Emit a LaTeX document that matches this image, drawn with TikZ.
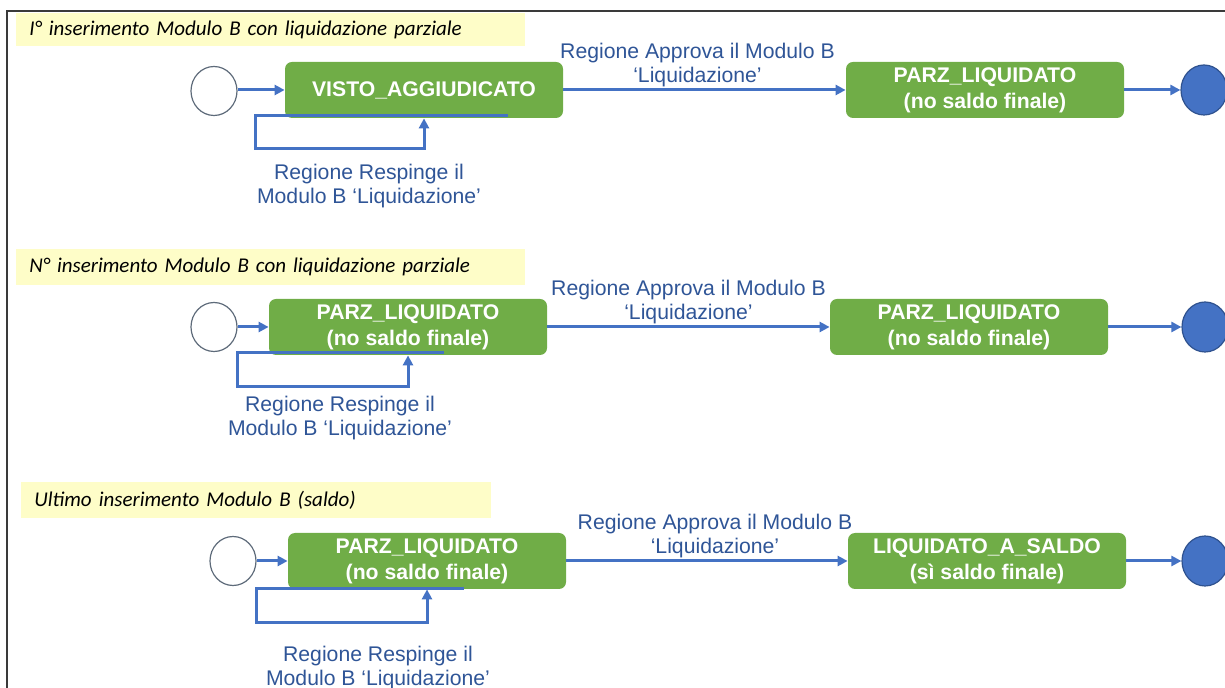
\documentclass[tikz,border=0pt]{standalone}
\usepackage{fontspec}
\setmainfont{Liberation Sans}
\newfontfamily\notefont{Carlito}
\usetikzlibrary{calc, shapes.geometric, arrows.meta}

\definecolor{phasegreen}{HTML}{70AD47}
\definecolor{flowblue}{HTML}{4472C4}
\definecolor{remarkblue}{HTML}{2F5597}
\definecolor{finishedge}{HTML}{2F528F}
\definecolor{pseudoedge}{HTML}{5E6B7A}
\definecolor{notegold}{HTML}{FEFDC8}
\definecolor{frameline}{HTML}{3A3A3A}

\begin{document}
\begin{tikzpicture}[x=0.5pt, y=-0.5pt,
        phase/.style={rectangle, rounded corners=3.5pt, fill=phasegreen, text=white, inner sep=0pt,
            minimum width=139pt, minimum height=28pt, align=center,
            font=\fontsize{10.6}{13}\selectfont\bfseries},
        pseudo/.style={ellipse, draw=pseudoedge, fill=white, line width=0.6pt, minimum width=23pt, minimum height=24.5pt},
        finish/.style={ellipse, draw=finishedge, fill=flowblue, line width=0.6pt, minimum width=23pt, minimum height=25pt},
        note/.style={fill=notegold, anchor=north west, inner xsep=6.5pt, inner ysep=0pt, minimum height=16.5pt,
            align=left, font=\notefont\itshape\fontsize{10.5}{12}\selectfont},
        remark/.style={text=remarkblue, align=center, inner sep=1pt, font=\fontsize{10.6}{12}\selectfont},
        flow/.style={draw=flowblue, line width=1.5pt, -{Triangle[length=5pt, width=5pt]}},
        ]

    \useasboundingbox (0, 0) rectangle (1225, 688);
    \clip (0, 0) rectangle (1225, 688);

    \draw [frameline, line width=1pt] (7, 700) -- (7, 11) -- (1230, 11);

    \node (T1) at (16, 13) [note, text width=241.5pt] {I° inserimento Modulo B con liquidazione parziale};
    \node (S1) at (214, 91) [pseudo] {};
    \node (A1) at (424, 90) [phase] {VISTO\_AGGIUDICATO};
    \node (B1) at (985, 90) [phase] {PARZ\_LIQUIDATO\\(no saldo finale)};
    \node (E1) at (1204, 90) [finish] {};

    \draw [flow] (S1.east |- A1) -- (A1);
    \draw [flow] (A1) -- node [remark, above, xshift=-3.5pt] {Regione Approva il Modulo B\\‘Liquidazione’} (B1);
    \draw [flow] (B1) -- (E1);
    \draw [flow] ($(A1.south) + (84, -3)$) -| ($(A1.south west) + (-29, 30)$) -| (A1.south);
    \node (R1) at (369, 186) [remark] {Regione Respinge il\\Modulo B ‘Liquidazione’};

    \node (T2) at (16, 249) [note, text width=241.5pt, minimum height=18pt] {N° inserimento Modulo B con liquidazione parziale};
    \node (S2) at (214, 327) [pseudo] {};
    \node (A2) at (408, 327) [phase] {PARZ\_LIQUIDATO\\(no saldo finale)};
    \node (B2) at (969, 327) [phase] {PARZ\_LIQUIDATO\\(no saldo finale)};
    \node (E2) at (1205, 327) [finish] {};

    \draw [flow] (S2) -- (A2);
    \draw [flow] (A2) -- node [remark, above] {Regione Approva il Modulo B\\‘Liquidazione’} (B2);
    \draw [flow] (B2) -- (E2);
    \draw [flow] ($(A2.south) + (36, -3)$) -| ($(A2.south west) + (-31, 31)$) -| (A2.south);
    \node (R2) at (340, 418) [remark] {Regione Respinge il\\Modulo B ‘Liquidazione’};

    \node (T3) at (21, 482) [note, text width=222pt, minimum height=18pt] {Ultimo inserimento Modulo B (saldo)};
    \node (S3) at (233, 561) [pseudo] {};
    \node (A3) at (427, 561) [phase] {PARZ\_LIQUIDATO\\(no saldo finale)};
    \node (B3) at (987, 561) [phase] {LIQUIDATO\_A\_SALDO\\(sì saldo finale)};
    \node (E3) at (1205, 561) [finish] {};

    \draw [flow] (S3) -- (A3);
    \draw [flow] (A3) -- node [remark, above, xshift=4pt] {Regione Approva il Modulo B\\‘Liquidazione’} (B3);
    \draw [flow] (B3) -- (E3);
    \draw [flow] ($(A3.south) + (37, -1)$) -| ($(A3.south west) + (-31, 33)$) -| (A3.south);
    \node (R3) at (378, 668) [remark] {Regione Respinge il\\Modulo B ‘Liquidazione’};
\end{tikzpicture}
\end{document}
